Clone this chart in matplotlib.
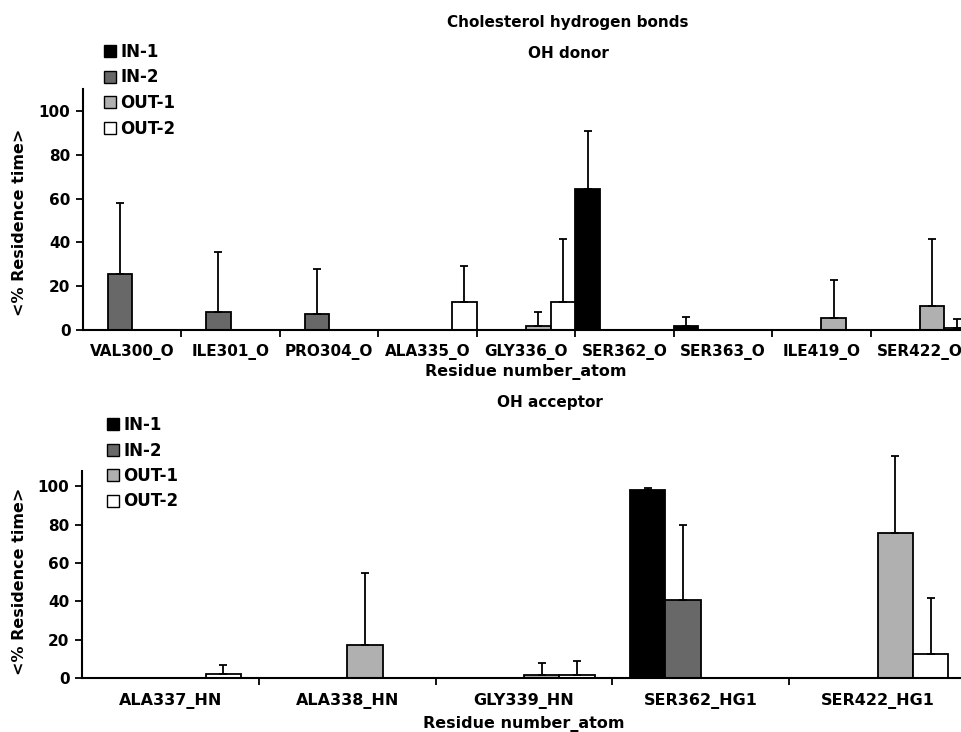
import matplotlib
matplotlib.use("Agg")
import matplotlib.pyplot as plt
from matplotlib.patches import Patch
import numpy as np

plt.rcParams['font.family'] = ['DejaVu Sans']
plt.rcParams['font.weight'] = 'bold'

series = ['IN-1', 'IN-2', 'OUT-1', 'OUT-2']
colors = ['#000000', '#686868', '#b0b0b0', '#ffffff']

# OH donor
cats_top = ['VAL300_O', 'ILE301_O', 'PRO304_O', 'ALA335_O', 'GLY336_O',
            'SER362_O', 'SER363_O', 'ILE419_O', 'SER422_O']
in1_top = [0, 0, 0, 0, 0, 64.4, 2.0, 0, 0]
in2_top = [25.6, 8.4, 7.3, 0, 0, 0, 0, 0, 0]
out1_top = [0, 0, 0, 0, 1.8, 0, 0, 5.3, 11.0]
out2_top = [0, 0, 0, 12.6, 12.8, 0, 0, 0, 1.0]
in1_top_err = [0, 0, 0, 0, 0, 26.6, 4.0, 0, 0]
in2_top_err = [32.4, 27.1, 20.7, 0, 0, 0, 0, 0, 0]
out1_top_err = [0, 0, 0, 0, 6.6, 0, 0, 17.5, 30.4]
out2_top_err = [0, 0, 0, 16.4, 28.7, 0, 0, 0, 3.9]

# OH acceptor
cats_bot = ['ALA337_HN', 'ALA338_HN', 'GLY339_HN', 'SER362_HG1', 'SER422_HG1']
in1_bot = [0, 0, 0, 97.9, 0]
in2_bot = [0, 0, 0, 40.6, 0]
out1_bot = [0, 17.2, 1.6, 0, 75.9]
out2_bot = [2.1, 0, 1.6, 0, 12.3]
in1_bot_err = [0, 0, 0, 1.1, 0]
in2_bot_err = [0, 0, 0, 39.4, 0]
out1_bot_err = [0, 37.6, 6.4, 0, 40.1]
out2_bot_err = [4.7, 0, 7.1, 0, 29.2]

yticks = [0, 20, 40, 60, 80, 100]

fig = plt.figure(figsize=(9.62, 7.32), dpi=100)
W, H = 962, 732

def px_axes(x0, x1, ytop, ybot):
    return fig.add_axes([x0 / W, (H - ybot) / H, (x1 - x0) / W, (ybot - ytop) / H])

def draw(ax, cats, vals, errs, width, ymax, xtfs, ylab_y, ylab_x, tpad, lpad):
    n = len(cats)
    x = np.arange(n)
    for k, (v, e) in enumerate(zip(vals, errs)):
        off = (k - 1.5) * width
        v = np.array(v, float)
        e = np.array(e, float)
        ax.bar(x + off, v, width, color=colors[k], edgecolor='black',
               linewidth=1.3, zorder=2, clip_on=False)
        m = v > 0
        ax.errorbar((x + off)[m], v[m], yerr=[np.zeros(m.sum()), e[m]],
                    fmt='none', ecolor='black', elinewidth=1.3, capsize=3.2,
                    capthick=1.3, zorder=3, clip_on=False)
    ax.set_xlim(-0.5, n - 0.5)
    ax.set_ylim(0, ymax)
    ax.set_xticks(x)
    ax.set_xticklabels(cats, fontsize=xtfs, fontweight='bold')
    ax.set_xticks(np.arange(n) + 0.5, minor=True)
    ax.tick_params(axis='x', which='major', length=0, pad=tpad)
    ax.tick_params(axis='x', which='minor', length=5, width=1.3, direction='out')
    ax.set_yticks(yticks)
    ax.set_yticklabels([str(t) for t in yticks], fontsize=11, fontweight='bold')
    ax.tick_params(axis='y', length=5, width=1.3, direction='out', pad=4)
    for s in ['top', 'right']:
        ax.spines[s].set_visible(False)
    for s in ['left', 'bottom']:
        ax.spines[s].set_linewidth(1.5)
    ax.set_ylabel('<% Residence time>', fontsize=11.5, fontweight='bold')
    ax.yaxis.set_label_coords(ylab_x, ylab_y)
    ax.set_xlabel('Residue number_atom', fontsize=11.5, fontweight='bold', labelpad=lpad)

ax1 = px_axes(83, 969, 89, 330)
draw(ax1, cats_top, [in1_top, in2_top, out1_top, out2_top],
     [in1_top_err, in2_top_err, out1_top_err, out2_top_err], 0.25, 110,
     11, 0.448, (27 - 83) / 886, 10, 3)

ax2 = px_axes(82, 966, 471, 678)
draw(ax2, cats_bot, [in1_bot, in2_bot, out1_bot, out2_bot],
     [in1_bot_err, in2_bot_err, out1_bot_err, out2_bot_err], 0.2, 108,
     11.5, 0.469, (27 - 82) / 884, 11, 5)

handles = [Patch(facecolor=c, edgecolor='black', linewidth=1.0) for c in colors]
for (lx, ly) in [(104, 43), (107, 416)]:
    fig.legend(handles, series, loc='upper left',
               bbox_to_anchor=(lx / W, 1 - ly / H), frameon=False,
               prop={'size': 12, 'weight': 'bold'}, handlelength=0.72,
               handleheight=0.72, handletextpad=0.25, labelspacing=0.45,
               borderpad=0, borderaxespad=0)

fig.text(568 / W, 1 - 22 / H, 'Cholesterol hydrogen bonds', ha='center', va='center',
         fontsize=11, fontweight='bold')
fig.text(568 / W, 1 - 53 / H, 'OH donor', ha='center', va='center',
         fontsize=11, fontweight='bold')
fig.text(550 / W, 1 - 402 / H, 'OH acceptor', ha='center', va='center',
         fontsize=11, fontweight='bold')

fig.savefig('out.png', dpi=100)
